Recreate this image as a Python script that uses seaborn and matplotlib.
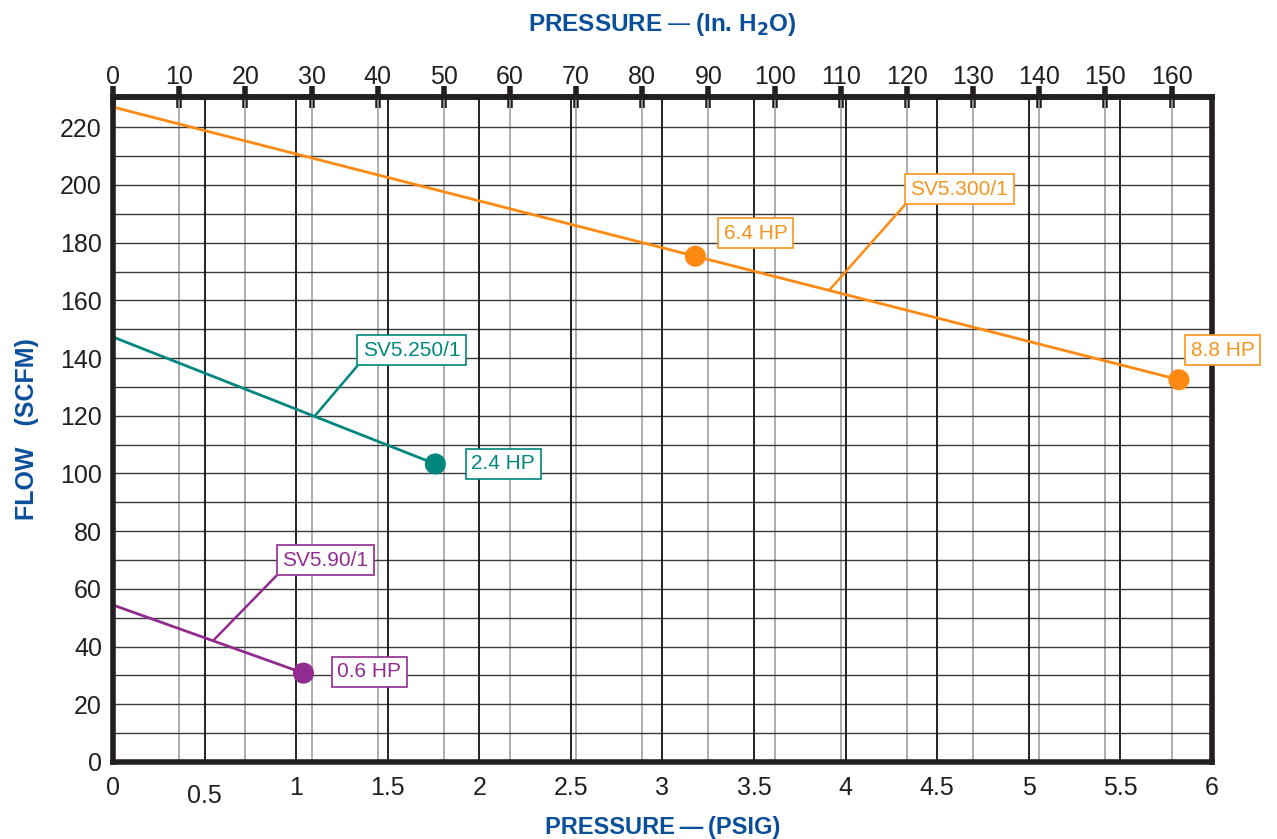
import matplotlib
matplotlib.use('Agg')
import matplotlib.pyplot as plt
import numpy as np
import seaborn as sb

# blower curves, pressure in psig, flow in scfm
models = ['SV5.300/1', 'SV5.250/1', 'SV5.90/1']
psig_300 = [0.0, 3.18, 5.82]
flow_300 = [227, 175.3, 132.5]
psig_250 = [0.0, 1.76]
flow_250 = [147.3, 103.3]
psig_90 = [0.0, 1.04]
flow_90 = [54.4, 30.8]

# rated points with horsepower
hp_psig = [3.18, 5.82, 1.76, 1.04]
hp_flow = [175.3, 132.5, 103.3, 30.8]
hp_labels = ['6.4 HP', '8.8 HP', '2.4 HP', '0.6 HP']
hp_model = ['SV5.300/1', 'SV5.300/1', 'SV5.250/1', 'SV5.90/1']

psig_ticks = [0, 0.5, 1, 1.5, 2, 2.5, 3, 3.5, 4, 4.5, 5, 5.5, 6]
h2o_ticks = list(range(0, 170, 10))
flow_ticks = list(range(0, 240, 20))

IN_H2O_PER_PSI = 27.68

colors = {'SV5.300/1': '#ff8a12', 'SV5.250/1': '#00877d', 'SV5.90/1': '#922b8f'}
text_colors = {'SV5.300/1': '#f7941d', 'SV5.250/1': '#00877d', 'SV5.90/1': '#922b8f'}
blue = '#0a4f9a'
ink = '#231f20'

sb.set_theme(style='white')
plt.rcParams['font.family'] = ['Liberation Sans', 'DejaVu Sans']

fig = plt.figure(figsize=(12.77, 8.39), dpi=100)
ax = fig.add_axes([0.0885, 0.0918, 0.8605, 0.7926])

# grid: thin gray at each 10 in. H2O, black at each 0.5 psig, dark every 10 scfm
for h in h2o_ticks:
    ax.axvline(h / IN_H2O_PER_PSI, color='#a0a0a0', lw=1.2, zorder=1)
for p in psig_ticks:
    ax.axvline(p, color='#111111', lw=1.3, zorder=1.2)
for f in range(10, 230, 10):
    ax.axhline(f, color='#3a3a3a', lw=1.0, zorder=1.1)

curves = [(psig_300, flow_300), (psig_250, flow_250), (psig_90, flow_90)]
for name, (px, fy) in zip(models, curves):
    sb.lineplot(x=px, y=fy, ax=ax, color=colors[name], lw=2.0, zorder=3)

sb.scatterplot(x=hp_psig, y=hp_flow, hue=hp_model, palette=colors, s=230,
               edgecolor='none', ax=ax, legend=False, zorder=4)

# hp labels
hp_text_pos = [(3.51, 183.3), (6.06, 142.8), (2.13, 103.3), (1.40, 31.2)]
for (tx, ty), lab, m in zip(hp_text_pos, hp_labels, hp_model):
    ax.text(tx, ty, lab, ha='center', va='center', fontsize=15, color=text_colors[m],
            zorder=8, clip_on=False,
            bbox=dict(boxstyle='square,pad=0.27', fc='white', ec=text_colors[m], lw=1.2))

# model labels with leader lines to the curve
model_text_pos = {'SV5.300/1': (4.62, 198.5), 'SV5.250/1': (1.63, 142.8), 'SV5.90/1': (1.16, 70.0)}
leader_x = {'SV5.300/1': 3.91, 'SV5.250/1': 1.10, 'SV5.90/1': 0.546}
for name, (px, fy) in zip(models, curves):
    lx = leader_x[name]
    ly = np.interp(lx, px, fy)
    ax.annotate(name, xy=(lx, ly), xytext=model_text_pos[name], ha='center', va='center',
                fontsize=15, color=text_colors[name], zorder=8,
                bbox=dict(boxstyle='square,pad=0.27', fc='white', ec=text_colors[name], lw=1.2),
                arrowprops=dict(arrowstyle='-', color=colors[name], lw=1.8,
                                relpos=(0, 0), shrinkA=0, shrinkB=0))

ax.set_xlim(0, 6)
ax.set_ylim(0, 230.5)
ax.set_xticks(psig_ticks)
ax.set_xticklabels([('%g' % t) for t in psig_ticks])
ax.set_yticks(flow_ticks)
ax.tick_params(axis='x', length=0, pad=10, labelsize=18, labelcolor=ink)
ax.tick_params(axis='y', direction='in', length=14, width=1.5, color='#777777', pad=8,
               labelsize=18, labelcolor=ink)
for lab in ax.get_xticklabels():
    if lab.get_text() == '0.5':
        lab.set_y(-0.012)

for s in ax.spines.values():
    s.set_visible(True)
    s.set_color(ink)
    s.set_linewidth(4)
    s.set_zorder(6)

top = ax.secondary_xaxis('top', functions=(lambda p: p * IN_H2O_PER_PSI,
                                           lambda h: h / IN_H2O_PER_PSI))
top.set_xticks(h2o_ticks)
top.tick_params(direction='inout', length=16, width=4, color=ink, pad=-2,
                labelsize=18, labelcolor=ink)
top.spines['top'].set_linewidth(4)
top.spines['top'].set_color(ink)

ax.set_xlabel('PRESSURE\u2009\u2014\u2009(PSIG)', fontsize=17, fontweight='bold', color=blue,
              labelpad=6)
top.set_xlabel('PRESSURE\u2009\u2014\u2009(In. H$_\\mathbf{2}$O)', fontsize=17.5,
               fontweight='bold', color=blue, labelpad=24)
ax.set_ylabel('FLOW   (SCFM)', fontsize=18, fontweight='bold', color=blue, labelpad=15)

fig.savefig('out.png', dpi=100)
